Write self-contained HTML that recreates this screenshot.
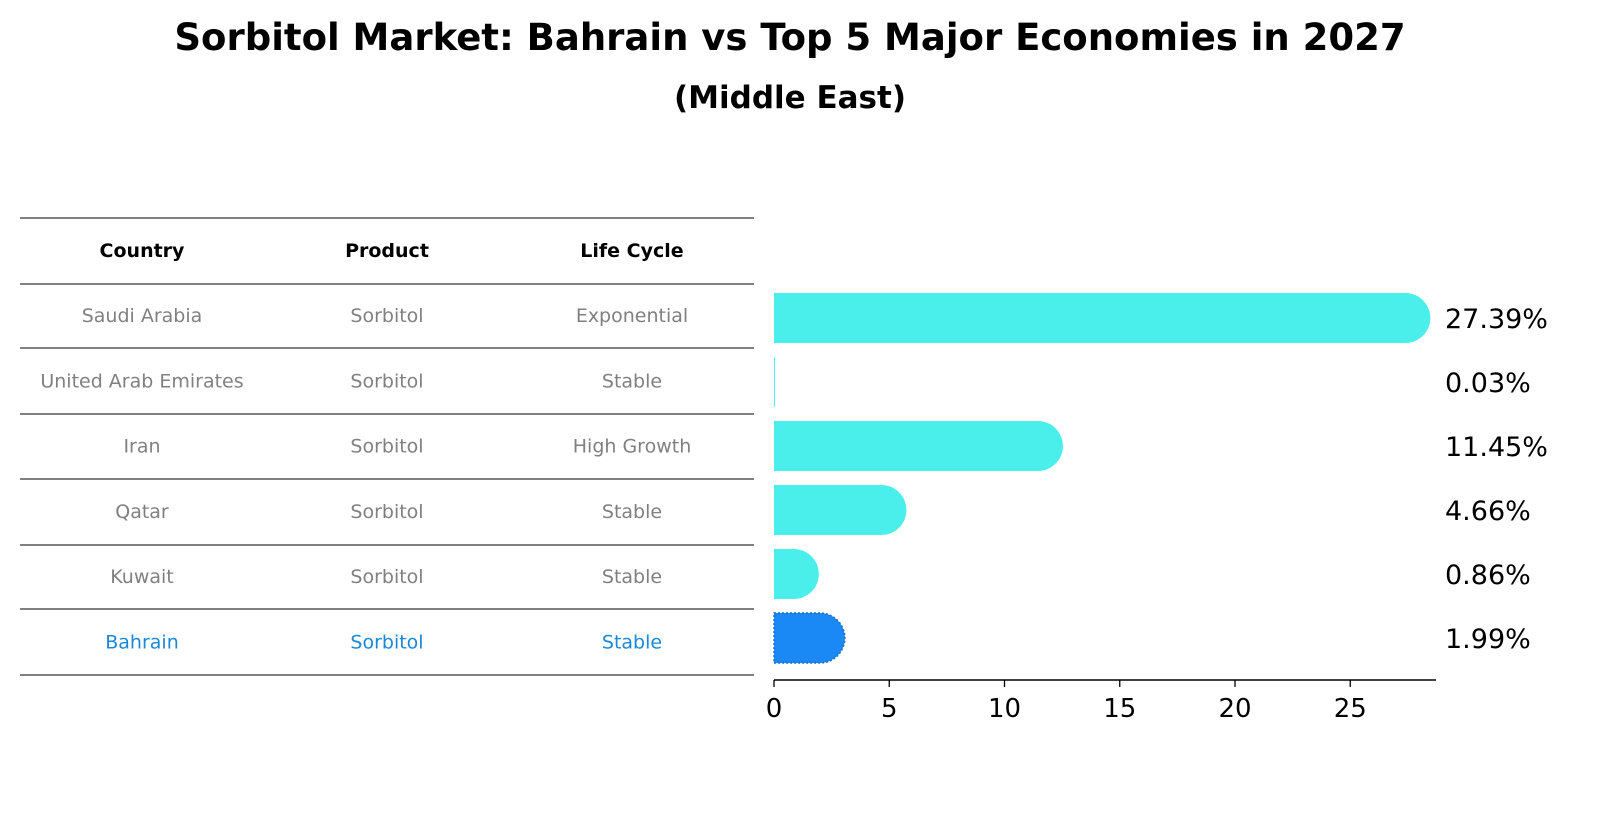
<!DOCTYPE html>
<html><head><meta charset="utf-8"><style>
body{margin:0;background:#fff;font-family:"Liberation Sans","DejaVu Sans",sans-serif;}
</style></head><body>
<svg width="1604" height="823" xmlns="http://www.w3.org/2000/svg" font-family="'DejaVu Sans','Liberation Sans',sans-serif">
<text x="790" y="50" text-anchor="middle" font-size="37" font-weight="bold">Sorbitol Market: Bahrain vs Top 5 Major Economies in 2027</text>
<text x="790" y="108" text-anchor="middle" font-size="31" font-weight="bold">(Middle East)</text>
<g id="table"></g>
<g id="bars"></g>
<g id="axis"></g>
</svg>
<script>
const countries=["Saudi Arabia","United Arab Emirates","Iran","Qatar","Kuwait","Bahrain"];
const products=["Sorbitol","Sorbitol","Sorbitol","Sorbitol","Sorbitol","Sorbitol"];
const lifeCycles=["Exponential","Stable","High Growth","Stable","Stable","Stable"];
const values=[27.39,0.03,11.45,4.66,0.86,1.99];
const labels=["27.39%","0.03%","11.45%","4.66%","0.86%","1.99%"];
const ticks=[0,5,10,15,20,25];
const NS="http://www.w3.org/2000/svg";
function mk(t,a,p){const e=document.createElementNS(NS,t);for(const k in a)e.setAttribute(k,a[k]);p.appendChild(e);return e;}
const x0=774,ppu=23.05,barH=50;
const xs=v=>x0+v*ppu;
const yc=i=>318+i*64;
const tbl=document.getElementById('table');
const lineYs=[218,284,348,414,479,545,609,675];
lineYs.forEach(y=>{const l=mk('line',{x1:20,x2:754,y1:y,y2:y,stroke:'#000','stroke-width':1},tbl);

});
const cx=[142,387,632];
["Country","Product","Life Cycle"].forEach((h,j)=>{const t=mk('text',{x:cx[j],y:257,'text-anchor':'middle','font-size':19,'font-weight':'bold'},tbl);t.textContent=h;

});
countries.forEach((c,i)=>{const col=i===5?'#1a88d8':'#808080';
[c,products[i],lifeCycles[i]].forEach((v,j)=>{const t=mk('text',{x:cx[j],y:322+i*65.3,'text-anchor':'middle','font-size':19,fill:col},tbl);t.textContent=v;

});});
const bars=document.getElementById('bars');
values.forEach((v,i)=>{const hl=i===5;const w=xs(v)-x0;const y=yc(i)-barH/2;const r=barH/2;
let d;
if(w<1){d=`M${x0},${y}h1v${barH}h-1z`;}
else d=`M${x0},${y}h${w}a${r},${r} 0 0 1 0,${barH}h${-w}z`;
const p=mk('path',{d:d,fill:hl?'#1a88f5':'#4aeeea',stroke:hl?'#1a6fd0':'none','stroke-dasharray':hl?'2,2':'none','stroke-width':hl?1.5:0},bars);


const t=mk('text',{x:1445,y:yc(i)+10,'font-size':27},bars);t.textContent=labels[i];

});
const ax=document.getElementById('axis');
mk('line',{x1:x0,x2:1436,y1:680,y2:680,stroke:'#000','stroke-width':1.5},ax);
ticks.forEach(tk=>{const x=xs(tk);mk('line',{x1:x,x2:x,y1:680,y2:687,stroke:'#000','stroke-width':1.3},ax);
const t=mk('text',{x:x,y:717,'text-anchor':'middle','font-size':26},ax);t.textContent=tk;

});
</script>
</body></html>
